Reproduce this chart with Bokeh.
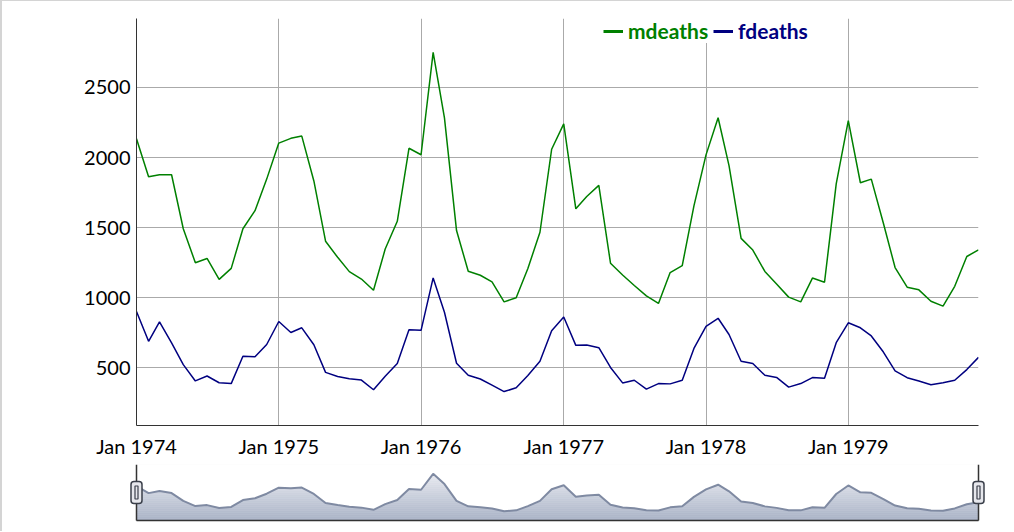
import datetime as dt
import numpy as np
from bokeh.plotting import figure
from bokeh.models import (Range1d, FixedTicker, DatetimeTickFormatter, Legend, LegendItem,
                          ColumnDataSource)
from bokeh.embed import file_html
from bokeh.resources import INLINE

years = [1974, 1975, 1976, 1977, 1978, 1979]
mdeaths = [2134, 1863, 1877, 1877, 1492, 1249, 1280, 1131, 1209, 1492, 1621, 1846,
           2103, 2137, 2153, 1833, 1403, 1288, 1186, 1133, 1053, 1347, 1545, 2066,
           2020, 2750, 2283, 1479, 1189, 1160, 1113, 970, 999, 1208, 1467, 2059,
           2240, 1634, 1722, 1801, 1246, 1162, 1087, 1013, 959, 1179, 1229, 1655,
           2019, 2284, 1942, 1423, 1340, 1187, 1098, 1004, 970, 1140, 1110, 1812,
           2263, 1820, 1846, 1531, 1215, 1075, 1056, 975, 940, 1081, 1294, 1341]
fdeaths = [901, 689, 827, 677, 522, 406, 441, 393, 387, 582, 578, 666,
           830, 752, 785, 664, 467, 438, 421, 412, 343, 440, 531, 771,
           767, 1141, 896, 532, 447, 420, 376, 330, 357, 445, 546, 764,
           862, 660, 663, 643, 502, 392, 411, 348, 387, 385, 411, 638,
           796, 853, 737, 546, 530, 446, 431, 362, 387, 430, 425, 679,
           821, 785, 727, 612, 478, 429, 405, 379, 393, 411, 487, 574]
y_ticks = [500, 1000, 1500, 2000, 2500]
series_names = ["mdeaths", "fdeaths"]
series_colors = ["#008000", "#000080"]

EPOCH = dt.datetime(1970, 1, 1)
def ms(d):
    return (d - EPOCH).total_seconds() * 1000.0

dates = [dt.datetime(y, m, 1) for y in years for m in range(1, 13)]
x_ms = [ms(d) for d in dates]
year_ticks = [ms(dt.datetime(y, 1, 1)) for y in years]

allv = mdeaths + fdeaths
vmin, vmax = min(allv), max(allv)
pad = 0.1 * (vmax - vmin)

FONT = "Lato"
BORDER = "#d4d4d4"
src = ColumnDataSource(dict(x=x_ms, m=mdeaths, f=fdeaths))

FRAME_W = 842
p = figure(width=1012, height=459, x_range=Range1d(x_ms[0], x_ms[-1]),
           y_range=Range1d(vmin - pad, vmax + pad), x_axis_type="datetime",
           output_backend="svg", toolbar_location=None,
           min_border_left=134, min_border_right=36, min_border_top=17, min_border_bottom=34)
p.outline_line_color = None
p.background_fill_color = "white"
p.border_fill_color = "white"
p.styles = {"border-top": "1px solid " + BORDER, "border-left": "2px solid " + BORDER}

p.xaxis.ticker = FixedTicker(ticks=year_ticks)
p.xaxis.formatter = DatetimeTickFormatter(years="%b %Y", months="%b %Y", days="%b %Y",
                                          hours="%b %Y", minutes="%b %Y", seconds="%b %Y",
                                          milliseconds="%b %Y")
p.yaxis.ticker = FixedTicker(ticks=y_ticks)
for ax in (p.xaxis[0], p.yaxis[0]):
    ax.axis_line_color = "#333333"
    ax.axis_line_width = 1
    ax.major_tick_line_color = None
    ax.minor_tick_line_color = None
    ax.major_tick_out = 0
    ax.major_tick_in = 0
    ax.major_label_text_font = FONT
    ax.major_label_text_font_size = "20px"
    ax.major_label_text_color = "black"
p.yaxis.major_label_standoff = 6
p.xaxis.major_label_standoff = 8
p.xgrid.grid_line_color = "#aaaaaa"
p.ygrid.grid_line_color = "#aaaaaa"

p.line("x", "m", source=src, line_color=series_colors[0], line_width=1.5)
p.line("x", "f", source=src, line_color=series_colors[1], line_width=1.5)

for name, col, loc in [(series_names[0], series_colors[0], (467, 382)),
                       (series_names[1], series_colors[1], (577, 382))]:
    dummy = p.line(x_ms[:2], [np.nan, np.nan], line_color=col, line_width=3)
    leg = Legend(items=[LegendItem(label=name, renderers=[dummy])], location=loc,
                 label_text_color=col, label_text_font=FONT, label_text_font_size="21px",
                 label_text_font_style="bold", glyph_width=20, glyph_height=20,
                 label_height=20, label_standoff=5, padding=3, margin=0, spacing=0,
                 border_line_color=None, background_fill_color="white",
                 background_fill_alpha=1.0)
    p.add_layout(leg)

# ---- range selector ----
avg = (np.array(mdeaths) + np.array(fdeaths)) / 2.0
amin, amax = avg.min(), avg.max()
ext = 0.25 * (amax - amin)
mlo, mhi = amin - ext, amax + ext
MINI_H = 56
x0, x1 = x_ms[0], x_ms[-1]
dx = 10 * (x1 - x0) / FRAME_W
dy = 2 * (mhi - mlo) / MINI_H

p2 = figure(width=1012, height=72, x_range=Range1d(x0 - dx, x1 + dx),
            y_range=Range1d(mlo - dy, mhi),
            x_axis_type=None, y_axis_type=None, output_backend="svg", toolbar_location=None,
            min_border_left=124, min_border_right=26, min_border_top=5, min_border_bottom=9)
p2.outline_line_color = None
p2.border_fill_color = "white"
p2.background_fill_color = "white"
p2.styles = {"border-left": "2px solid " + BORDER}

def mix(c1, c2, t):
    a = [int(c1[i:i + 2], 16) for i in (1, 3, 5)]
    b = [int(c2[i:i + 2], 16) for i in (1, 3, 5)]
    return "#" + "".join("%02x" % int(round(a[k] + (b[k] - a[k]) * t)) for k in range(3))

bottom_c, top_c = "#a9b2c6", "#f4f5f8"
N = 28
edges = [mlo + (mhi - mlo) * j / N for j in range(N + 1)]
cols = [mix(bottom_c, top_c, (j + 0.5) / N) for j in range(N)]
p2.quad(left=[x0] * N, right=[x1] * N, bottom=edges[:-1], top=edges[1:],
        fill_color=cols, line_color=cols, line_width=0.6)
p2.varea(x=x_ms, y1=avg.tolist(), y2=[mhi + dy] * len(x_ms), fill_color="white")
p2.line(x_ms, avg.tolist(), line_color="#7f8aa2", line_width=2)

p2.segment(x0=[x0, x0, x1], y0=[mlo, mlo, mlo], x1=[x1, x0, x1], y1=[mlo, mhi, mhi],
           line_color="#333333", line_width=1.5)

ymid = (mlo + mhi) / 2.0
ends = [x0, x1]
p2.rect(x=ends, y=[ymid, ymid], width=11, height=22, width_units="screen", height_units="screen",
        fill_color="#e6e7ec", line_color="#3a3f4a", line_width=1.5, border_radius=3)
p2.rect(x=ends, y=[ymid, ymid], width=3, height=13, width_units="screen", height_units="screen",
        fill_color="#e6e7ec", line_color="#3a3f4a", line_width=1.2)

open("out.html", "w").write(file_html([p, p2], INLINE))
